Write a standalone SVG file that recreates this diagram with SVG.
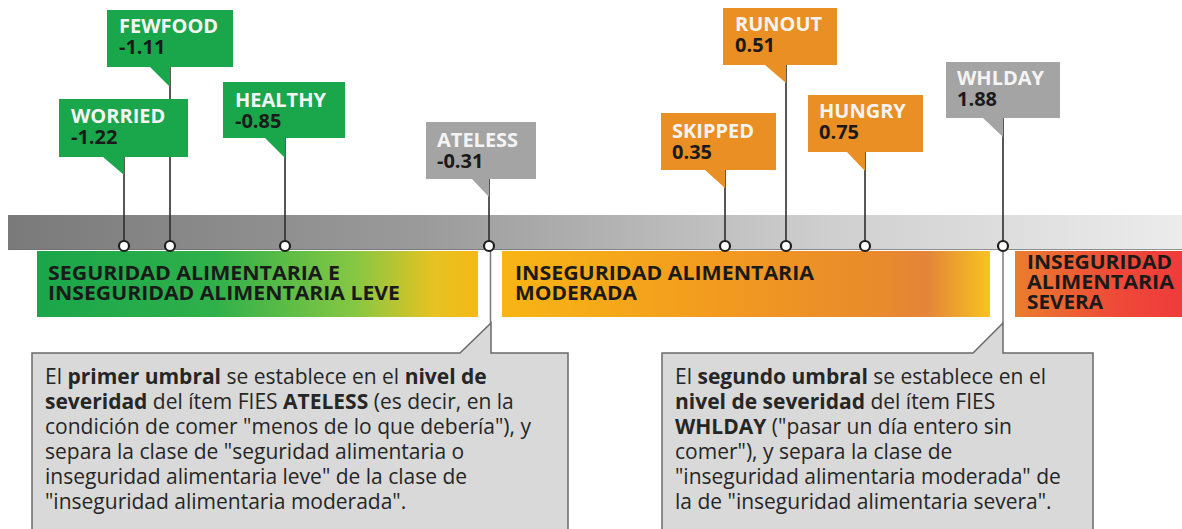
<svg xmlns="http://www.w3.org/2000/svg" width="1182" height="529" viewBox="0 0 1182 529">
  <style>
    .lbl { font-family: "Open Sans", "Liberation Sans", sans-serif; font-weight: 700; font-size: 20px; }
    .name { fill: #f4f4f4; }
    .num { fill: #1a1a1a; }
    .band { font-family: "Open Sans", "Liberation Sans", sans-serif; font-weight: 700; font-size: 20px; fill: #1a1a1a; }
    .green { fill: #1aa64b; }
    .orange { fill: #ea8f24; }
    .grey { fill: #a4a4a4; }
    .conn { stroke: #2e2e2e; stroke-width: 1.6; fill: none; }
    .dot { fill: #ffffff; stroke: #1e1e1e; stroke-width: 2.2; }
    .call { fill: #d9d9d9; stroke: #6a6a6a; stroke-width: 1.5; }
    .ct { font-family: "Open Sans", "Liberation Sans", sans-serif; font-size: 21px; fill: #262626; }
    .b { font-weight: 700; }
  </style>
  <defs>
    <linearGradient id="gBar" x1="0" y1="0" x2="1" y2="0">
      <stop offset="0" stop-color="#7a7a7a"/>
      <stop offset="0.35" stop-color="#9a9a9a"/>
      <stop offset="0.7" stop-color="#cfcfcf"/>
      <stop offset="1" stop-color="#ececec"/>
    </linearGradient>
    <linearGradient id="gGreen" x1="0" y1="0" x2="1" y2="0">
      <stop offset="0" stop-color="#1aa64b"/>
      <stop offset="0.4" stop-color="#2fb04a"/>
      <stop offset="0.72" stop-color="#86c743"/>
      <stop offset="0.9" stop-color="#e6c222"/>
      <stop offset="1" stop-color="#f5b915"/>
    </linearGradient>
    <linearGradient id="gOrange" x1="0" y1="0" x2="1" y2="0">
      <stop offset="0" stop-color="#f8b514"/>
      <stop offset="0.45" stop-color="#f29a1f"/>
      <stop offset="0.78" stop-color="#e88a2c"/>
      <stop offset="0.87" stop-color="#e3843a"/>
      <stop offset="1" stop-color="#f8c41f"/>
    </linearGradient>
    <linearGradient id="gRed" x1="0" y1="0" x2="1" y2="0">
      <stop offset="0" stop-color="#ea7d2e"/>
      <stop offset="0.6" stop-color="#ee4a38"/>
      <stop offset="1" stop-color="#ef3b3b"/>
    </linearGradient>
  </defs>

  <rect x="0" y="0" width="1182" height="529" fill="#ffffff"/>

  <!-- scale bar -->
  <g id="scale">
    <rect x="8" y="215" width="1174" height="35" fill="url(#gBar)"/>
    <line x1="8" y1="249.5" x2="1182" y2="249.5" stroke="#6e6e6e" stroke-width="1.2" opacity="0.7"/>
  </g>

  <!-- class bands -->
  <g id="band-leve">
    <rect x="37" y="251" width="441" height="66" fill="url(#gGreen)"/>
    <text class="band" x="48" y="280" textLength="292" lengthAdjust="spacingAndGlyphs">SEGURIDAD ALIMENTARIA E</text>
    <text class="band" x="48" y="300" textLength="352" lengthAdjust="spacingAndGlyphs">INSEGURIDAD ALIMENTARIA LEVE</text>
  </g>
  <g id="band-moderada">
    <rect x="502" y="251" width="488" height="66" fill="url(#gOrange)"/>
    <text class="band" x="515" y="280" textLength="299" lengthAdjust="spacingAndGlyphs">INSEGURIDAD ALIMENTARIA</text>
    <text class="band" x="515" y="300" textLength="122" lengthAdjust="spacingAndGlyphs">MODERADA</text>
  </g>
  <g id="band-severa">
    <rect x="1015" y="251" width="167" height="66" fill="url(#gRed)"/>
    <text class="band" x="1027" y="269" textLength="145" lengthAdjust="spacingAndGlyphs">INSEGURIDAD</text>
    <text class="band" x="1027" y="289" textLength="147" lengthAdjust="spacingAndGlyphs">ALIMENTARIA</text>
    <text class="band" x="1027" y="309" textLength="76" lengthAdjust="spacingAndGlyphs">SEVERA</text>
  </g>

  <!-- callouts -->
  <g id="callout-1">
    <path class="call" d="M32,353 H460 L491,323 V353 H568 V535 H32 Z"/>
    <text class="ct" x="45" y="384">El <tspan class="b">primer umbral</tspan> se establece en el <tspan class="b">nivel de</tspan></text>
    <text class="ct" x="45" y="409"><tspan class="b">severidad</tspan> del ítem FIES <tspan class="b">ATELESS</tspan> (es decir, en la</text>
    <text class="ct" x="45" y="434">condición de comer "menos de lo que debería"), y</text>
    <text class="ct" x="45" y="459">separa la clase de "seguridad alimentaria o</text>
    <text class="ct" x="45" y="484">inseguridad alimentaria leve" de la clase de</text>
    <text class="ct" x="45" y="509">"inseguridad alimentaria moderada".</text>
  </g>
  <g id="callout-2">
    <path class="call" d="M662,353 H973 L1003,323 V353 H1093 V535 H662 Z"/>
    <text class="ct" x="675" y="384">El <tspan class="b">segundo umbral</tspan> se establece en el</text>
    <text class="ct" x="675" y="409"><tspan class="b">nivel de severidad</tspan> del ítem FIES</text>
    <text class="ct" x="675" y="434"><tspan class="b">WHLDAY</tspan> ("pasar un día entero sin</text>
    <text class="ct" x="675" y="459">comer"), y separa la clase de</text>
    <text class="ct" x="675" y="484">"inseguridad alimentaria moderada" de</text>
    <text class="ct" x="675" y="509">la de "inseguridad alimentaria severa".</text>
  </g>

  <!-- connectors -->
  <g id="connectors">
    <line class="conn" x1="124" y1="157" x2="124" y2="246"/>
    <line class="conn" x1="170" y1="67" x2="170" y2="246"/>
    <line class="conn" x1="285" y1="138" x2="285" y2="246"/>
    <line class="conn" x1="489" y1="179" x2="489" y2="246"/>
    <line x1="490.5" y1="246" x2="490.5" y2="323" stroke="#7a7a7a" stroke-width="1.5"/>
    <line class="conn" x1="725" y1="170" x2="725" y2="246"/>
    <line class="conn" x1="786" y1="65" x2="786" y2="246"/>
    <line class="conn" x1="865" y1="152" x2="865" y2="246"/>
    <line class="conn" x1="1003" y1="118" x2="1003" y2="246"/>
    <line x1="1003" y1="246" x2="1003" y2="323" stroke="#7a7a7a" stroke-width="1.5"/>
  </g>

  <!-- item labels -->
  <g id="worried">
    <path class="green" d="M59,99 H188 V157 H124 V175 L103,157 H59 Z"/>
    <text class="lbl name" x="71" y="123">WORRIED</text>
    <text class="lbl num" x="71" y="144">-1.22</text>
    <circle class="dot" cx="124" cy="246" r="5"/>
  </g>
  <g id="fewfood">
    <path class="green" d="M107,10 H233 V67 H170 V87 L150,67 H107 Z"/>
    <text class="lbl name" x="119" y="33">FEWFOOD</text>
    <text class="lbl num" x="119" y="54">-1.11</text>
    <circle class="dot" cx="170" cy="246" r="5"/>
  </g>
  <g id="healthy">
    <path class="green" d="M223,82 H345 V138 H285 V158 L265,138 H223 Z"/>
    <text class="lbl name" x="235" y="107">HEALTHY</text>
    <text class="lbl num" x="235" y="128">-0.85</text>
    <circle class="dot" cx="285" cy="246" r="5"/>
  </g>
  <g id="ateless">
    <path class="grey" d="M426,122 H536 V179 H489 V197 L472,179 H426 Z"/>
    <text class="lbl name" x="437" y="147">ATELESS</text>
    <text class="lbl num" x="437" y="168">-0.31</text>
    <circle class="dot" cx="489" cy="246" r="5"/>
  </g>
  <g id="skipped">
    <path class="orange" d="M661,113 H776 V170 H725 V188 L705,170 H661 Z"/>
    <text class="lbl name" x="672" y="138">SKIPPED</text>
    <text class="lbl num" x="672" y="159">0.35</text>
    <circle class="dot" cx="725" cy="246" r="5"/>
  </g>
  <g id="runout">
    <path class="orange" d="M723,8 H837 V65 H786 V83 L765,65 H723 Z"/>
    <text class="lbl name" x="735" y="31">RUNOUT</text>
    <text class="lbl num" x="735" y="52">0.51</text>
    <circle class="dot" cx="786" cy="246" r="5"/>
  </g>
  <g id="hungry">
    <path class="orange" d="M808,95 H923 V152 H865 V171 L847,152 H808 Z"/>
    <text class="lbl name" x="819" y="118">HUNGRY</text>
    <text class="lbl num" x="819" y="139">0.75</text>
    <circle class="dot" cx="865" cy="246" r="5"/>
  </g>
  <g id="whlday">
    <path class="grey" d="M946,62 H1060 V118 H1003 V137 L983,118 H946 Z"/>
    <text class="lbl name" x="957" y="85">WHLDAY</text>
    <text class="lbl num" x="957" y="106">1.88</text>
    <circle class="dot" cx="1003" cy="246" r="5"/>
  </g>
</svg>
